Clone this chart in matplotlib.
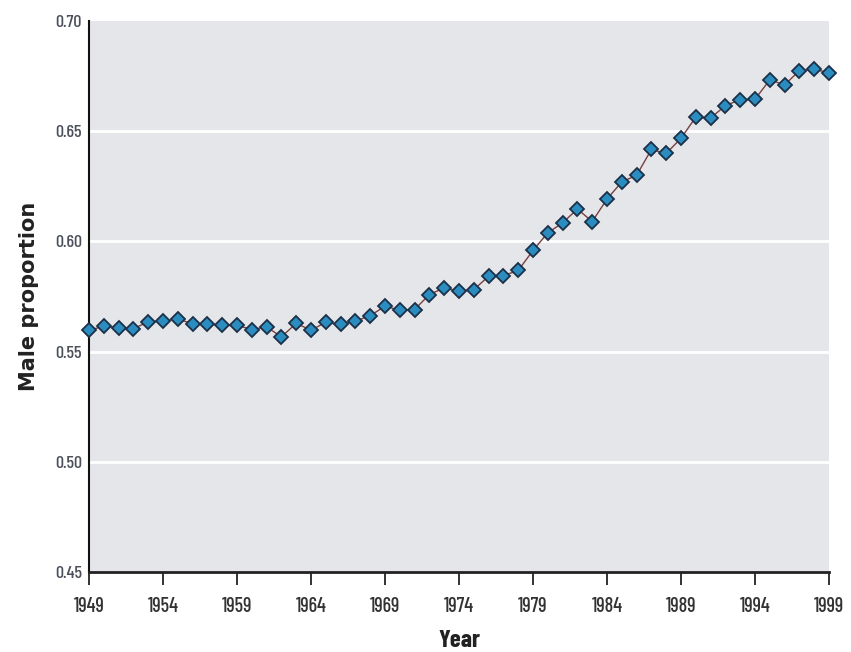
import matplotlib
matplotlib.use("Agg")
import matplotlib.pyplot as plt
from matplotlib import font_manager

years = list(range(1949, 2000))
male_proportion = [
    0.5597, 0.5615, 0.5608, 0.5604, 0.5635, 0.5639, 0.5647, 0.5627, 0.5627, 0.5619,
    0.5619, 0.5600, 0.5612, 0.5567, 0.5628, 0.5597, 0.5633, 0.5623, 0.5638, 0.5663,
    0.5706, 0.5688, 0.5691, 0.5759, 0.5789, 0.5774, 0.5781, 0.5842, 0.5845, 0.5868,
    0.5959, 0.6039, 0.6084, 0.6147, 0.6090, 0.6192, 0.6270, 0.6300, 0.6417, 0.6399,
    0.6468, 0.6564, 0.6560, 0.6616, 0.6643, 0.6645, 0.6733, 0.6710, 0.6775, 0.6780,
    0.6766,
]
x_ticks = [1949, 1954, 1959, 1964, 1969, 1974, 1979, 1984, 1989, 1994, 1999]
y_ticks = [0.45, 0.50, 0.55, 0.60, 0.65, 0.70]
y_tick_labels = ["0.45", "0.50", "0.55", "0.60", "0.65", "0.70"]
x_label = "Year"
y_label = "Male proportion"

names = {f.name for f in font_manager.fontManager.ttflist}
narrow = "DejaVu Sans"
for cand in ["Barlow Condensed", "Roboto Condensed", "Asap Condensed", "Archivo Narrow"]:
    if cand in names:
        narrow = cand
        break
fam = [narrow, "DejaVu Sans"]
wide = ["DejaVu Sans"]

fig = plt.figure(figsize=(8.51, 6.52), dpi=100)
ax = fig.add_axes([89/851, 80/652, 740/851, 551/652])
ax.set_facecolor("#e4e6e9")

ax.plot(years, male_proportion, color="#7a3f3f", linewidth=1.0,
        marker="D", markersize=7.5, markerfacecolor="#2b8cbf",
        markeredgecolor="#1b3048", markeredgewidth=1.3, clip_on=False, zorder=3)

ax.set_xlim(1949, 1999)
ax.set_ylim(0.45, 0.70)
ax.set_xticks(x_ticks)
ax.set_xticklabels([str(v) for v in x_ticks], family=fam, fontsize=14.5,
                   fontweight="medium", color="#333333")
ax.set_yticks(y_ticks)
ax.set_yticklabels(y_tick_labels, family=fam, fontsize=13, fontweight="medium",
                   color="#4a4f5a")

for v in y_ticks[1:-1]:
    ax.axhline(v, color="white", linewidth=2, zorder=1)

for s in ["top", "right"]:
    ax.spines[s].set_visible(False)
ax.spines["left"].set_color("#111111")
ax.spines["left"].set_linewidth(1.5)
ax.spines["bottom"].set_color("#222222")
ax.spines["bottom"].set_linewidth(2.0)

ax.tick_params(axis="x", direction="out", length=9, width=1.3, color="#222222", pad=9)
ax.tick_params(axis="y", length=0, pad=5)

ax.set_xlabel(x_label, family=fam, fontsize=18, fontweight="bold", color="#222222", labelpad=10)
ax.set_ylabel(y_label, family=wide, fontsize=15, fontweight="bold", color="#222222")
ax.yaxis.set_label_coords(-(89 - 39) / 740, 0.5)

fig.savefig("out.png", dpi=100)
